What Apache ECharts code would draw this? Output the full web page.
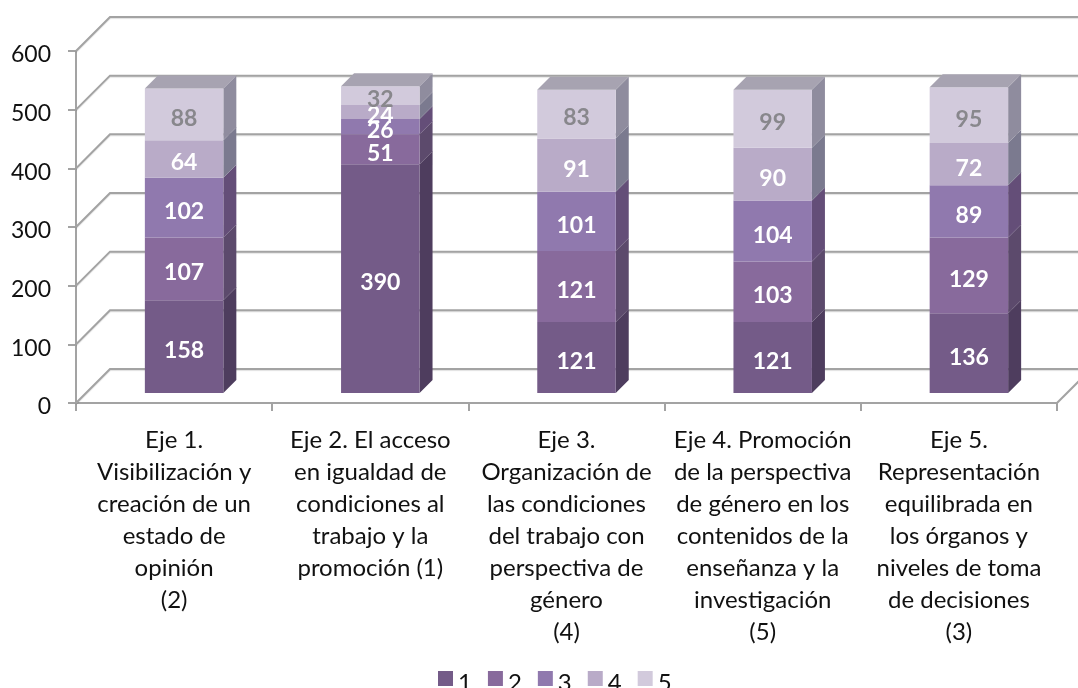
<!DOCTYPE html>
<html>
<head>
<meta charset="utf-8">
<title>Ejes</title>
<script src="https://cdn.jsdelivr.net/npm/echarts@6/dist/echarts.min.js"></script>
<style>
  html, body { margin: 0; padding: 0; background: #fff; overflow: hidden; }
  #chart { width: 1078px; height: 688px; }
</style>
</head>
<body>
<div id="chart"></div>
<script>
const categories = [
  'Eje 1.\nVisibilización y\ncreación de un\nestado de\nopinión\n(2)',
  'Eje 2. El acceso\nen igualdad de\ncondiciones al\ntrabajo y la\npromoción (1)',
  'Eje 3.\nOrganización de\nlas condiciones\ndel trabajo con\nperspectiva de\ngénero\n(4)',
  'Eje 4. Promoción\nde la perspectiva\nde género en los\ncontenidos de la\nenseñanza y la\ninvestigación\n(5)',
  'Eje 5.\nRepresentación\nequilibrada en\nlos órganos y\nniveles de toma\nde decisiones\n(3)'
];
const seriesNames = ['1', '2', '3', '4', '5'];
const values1 = [158, 390, 121, 121, 136];
const values2 = [107, 51, 121, 103, 129];
const values3 = [102, 26, 101, 104, 89];
const values4 = [64, 24, 91, 90, 72];
const values5 = [88, 32, 83, 99, 95];
const yTicks = [0, 100, 200, 300, 400, 500, 600];

const frontColors = ['#745b88', '#886a9c', '#9079ae', '#b9abc8', '#d2cadc'];
const sideColors = ['#4e3d5e', '#5c4a6c', '#644e78', '#7b7a8f', '#8f8c9e'];
const topColor = '#a7a3b1';
const labelColors = ['#fff', '#fff', '#fff', '#fff', '#88878c'];
const lineColor = '#a3a3a3';
const fontName = 'Lato';

const wallDepth = 34; // depth of the fake 3d floor
const barDepth = 13;
const barInset = 10; // bars sit a bit behind the front axis

const allValues = [values1, values2, values3, values4, values5];

function wallLine(params, api) {
  const rect = params.coordSys;
  const y = api.coord([0, api.value(1)])[1];
  const wall = {
    type: 'polyline',
    shape: { points: [[rect.x, y], [rect.x + wallDepth, y - wallDepth], [rect.x + rect.width + wallDepth, y - wallDepth]] },
    style: { fill: null, stroke: lineColor, lineWidth: 2, shadowColor: 'rgba(0,0,0,0.12)', shadowOffsetY: 1, shadowBlur: 1 }
  };
  if (api.value(1) !== 0) return wall;
  // the floor also closes on the right hand side
  return {
    type: 'group',
    children: [wall, {
      type: 'line',
      shape: { x1: rect.x + rect.width, y1: y, x2: rect.x + rect.width + wallDepth, y2: y - wallDepth },
      style: { stroke: lineColor, lineWidth: 2 }
    }]
  };
}

function barLayer(seriesIdx) {
  return function (params, api) {
    const catIdx = api.value(0);
    const base = api.value(2);
    const value = api.value(1);
    const width = api.size([1, 0])[0] * 0.4;
    const center = api.coord([catIdx, 0])[0];
    const x = center - width / 2 + barInset;
    const yBottom = api.coord([catIdx, base])[1] - barInset;
    const yTop = api.coord([catIdx, base + value])[1] - barInset;
    const children = [
      {
        type: 'polygon',
        shape: { points: [[x + width, yBottom], [x + width + barDepth, yBottom - barDepth], [x + width + barDepth, yTop - barDepth], [x + width, yTop]] },
        style: { fill: sideColors[seriesIdx] }
      },
      {
        type: 'rect',
        shape: { x: x, y: yTop, width: width, height: yBottom - yTop },
        style: { fill: frontColors[seriesIdx] }
      }
    ];
    if (seriesIdx === seriesNames.length - 1) {
      children.push({
        type: 'polygon',
        shape: { points: [[x, yTop], [x + barDepth, yTop - barDepth], [x + width + barDepth, yTop - barDepth], [x + width, yTop]] },
        style: { fill: topColor }
      });
    }
    children.push({
      type: 'text',
      z2: 10,
      style: {
        x: x + width / 2,
        y: (yTop + yBottom) / 2 + 4,
        text: String(value),
        fill: labelColors[seriesIdx],
        fontFamily: fontName,
        fontWeight: 'bold',
        fontSize: 23,
        align: 'center',
        verticalAlign: 'middle'
      }
    });
    return { type: 'group', children: children };
  };
}

const barSeries = allValues.map((vals, seriesIdx) => {
  return {
    name: seriesNames[seriesIdx],
    type: 'custom',
    coordinateSystem: 'cartesian2d',
    z: 3,
    renderItem: barLayer(seriesIdx),
    itemStyle: { color: frontColors[seriesIdx] },
    encode: { x: 0, y: 1 },
    data: vals.map((v, catIdx) => {
      // stacked by hand, third value is where this layer starts
      let base = 0;
      for (let i = 0; i < seriesIdx; i++) base += allValues[i][catIdx];
      return [catIdx, v, base];
    })
  };
});

const chart = echarts.init(document.getElementById('chart'), null, { renderer: 'canvas' });
chart.setOption({
  animation: false,
  backgroundColor: '#fff',
  textStyle: { fontFamily: fontName },
  grid: { left: 76, right: 21, top: 51, bottom: 285, containLabel: false },
  legend: {
    data: seriesNames,
    left: 438,
    top: 671,
    padding: 0,
    icon: 'rect',
    itemWidth: 15,
    itemHeight: 15,
    itemGap: 16,
    formatter: '{a|{name}}',
    textStyle: {
      fontFamily: fontName,
      fontSize: 24,
      color: '#111',
      rich: { a: { fontFamily: fontName, fontSize: 24, color: '#111', padding: [10, 0, 0, 0] } }
    }
  },
  xAxis: {
    type: 'category',
    data: categories,
    boundaryGap: true,
    axisLine: { lineStyle: { color: lineColor, width: 2 } },
    axisTick: { show: true, length: 8, alignWithLabel: false, lineStyle: { color: lineColor, width: 2 } },
    axisLabel: { interval: 0, margin: 21, fontFamily: fontName, fontSize: 24, lineHeight: 32, color: '#111' }
  },
  yAxis: {
    type: 'value',
    min: 0,
    max: 600,
    interval: 100,
    axisLine: { show: true, lineStyle: { color: lineColor, width: 2 } },
    axisTick: { show: true, length: 8, lineStyle: { color: lineColor, width: 2 } },
    splitLine: { show: false },
    axisLabel: {
      margin: 25,
      formatter: '{a|{value}}',
      rich: { a: { fontFamily: fontName, fontSize: 23, color: '#111', padding: [8, 0, 0, 0] } }
    }
  },
  series: [{
    name: 'wall',
    type: 'custom',
    coordinateSystem: 'cartesian2d',
    z: 1,
    silent: true,
    renderItem: wallLine,
    encode: { x: 0, y: 1 },
    data: yTicks.map((t) => [0, t])
  }].concat(barSeries)
});
</script>
</body>
</html>
